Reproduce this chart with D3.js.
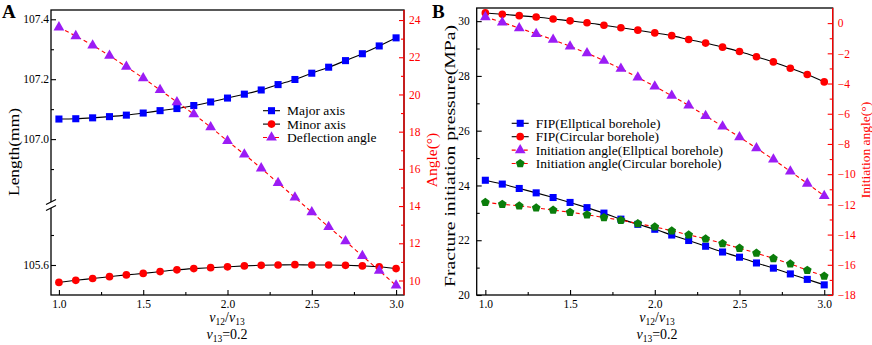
<!DOCTYPE html>
<html>
<head>
<meta charset="utf-8">
<script src="https://cdn.jsdelivr.net/npm/d3@7"></script>
<style>
  body { margin: 0; background: #fff; }
  svg text { font-family: "Liberation Serif", "Times New Roman", serif; }
</style>
</head>
<body>
<svg id="chart" width="872" height="345"></svg>
<script>
// v12/v13 ratio, shared by both panels
const ratio = [1.0, 1.1, 1.2, 1.3, 1.4, 1.5, 1.6, 1.7, 1.8, 1.9, 2.0, 2.1, 2.2, 2.3, 2.4, 2.5, 2.6, 2.7, 2.8, 2.9, 3.0];

// panel A
const majorAxis = [107.067, 107.068, 107.071, 107.075, 107.080, 107.087, 107.095, 107.102, 107.112, 107.124, 107.137,
  107.150, 107.164, 107.182, 107.199, 107.220, 107.240, 107.262, 107.285, 107.311, 107.338];
const minorAxis = [105.542, 105.549, 105.555, 105.561, 105.567, 105.572, 105.578, 105.584, 105.588, 105.591, 105.594,
  105.597, 105.599, 105.600, 105.601, 105.600, 105.600, 105.599, 105.597, 105.594, 105.588];
const deflectionAngle = [23.61, 23.14, 22.64, 22.08, 21.49, 20.88, 20.24, 19.59, 18.94, 18.24, 17.50,
  16.78, 16.03, 15.24, 14.46, 13.67, 12.88, 12.11, 11.32, 10.53, 9.73];

// panel B
const fipElliptical = [24.19, 24.05, 23.89, 23.73, 23.56, 23.38, 23.19, 22.99, 22.77, 22.58, 22.40,
  22.19, 21.99, 21.78, 21.57, 21.38, 21.17, 20.98, 20.77, 20.57, 20.37];
const fipCircular = [30.30, 30.25, 30.20, 30.15, 30.08, 30.01, 29.94, 29.85, 29.76, 29.67, 29.57,
  29.47, 29.33, 29.20, 29.05, 28.89, 28.70, 28.51, 28.28, 28.05, 27.78];
const angleElliptical = [0.40, 0.05, -0.33, -0.71, -1.10, -1.54, -1.99, -2.49, -3.02, -3.60, -4.19,
  -4.81, -5.45, -6.14, -6.84, -7.55, -8.28, -9.03, -9.82, -10.62, -11.44];
const angleCircular = [-11.87, -11.99, -12.10, -12.23, -12.38, -12.52, -12.69, -12.87, -13.05, -13.27, -13.49,
  -13.75, -14.02, -14.28, -14.59, -14.90, -15.23, -15.58, -15.94, -16.36, -16.75];

// tick labels
const xTicks = [1.0, 1.5, 2.0, 2.5, 3.0];
const xMinor = [1.25, 1.75, 2.25, 2.75];
const lengthTicksUp = [107.0, 107.2, 107.4];
const lengthMinorUp = [106.9, 107.1, 107.3];
const lengthTicksLow = [105.6];
const lengthMinorLow = [105.7];
const deflTicks = [10, 12, 14, 16, 18, 20, 22, 24];
const deflMinor = [11, 13, 15, 17, 19, 21, 23];
const fipTicks = [20, 22, 24, 26, 28, 30];
const fipMinor = [21, 23, 25, 27, 29];
const initTicks = [-18, -16, -14, -12, -10, -8, -6, -4, -2, 0];
const initMinor = [-17, -15, -13, -11, -9, -7, -5, -3, -1];

const RED = "#ff0000";
const BLUE = "#0000ff";
const VIOLET = "#9b1cf5";
const GREEN = "#0b7d0b";

const svg = d3.select("#chart");

// pentagon marker, d3 has none
const symbolPentagon = {
  draw(ctx, size) {
    const r = Math.sqrt(size / 2.378);
    for (let i = 0; i < 5; i++) {
      const a = -Math.PI / 2 + (i * 2 * Math.PI) / 5;
      if (i === 0) ctx.moveTo(r * Math.cos(a), r * Math.sin(a));
      else ctx.lineTo(r * Math.cos(a), r * Math.sin(a));
    }
    ctx.closePath();
  },
};
const markers = {
  square: d3.symbol().type(d3.symbolSquare).size(50),
  circle: d3.symbol().type(d3.symbolCircle).size(46),
  triangle: d3.symbol().type(d3.symbolTriangle).size(50),
  pentagon: d3.symbol().type(symbolPentagon).size(50),
};

function drawSeries(g, x, y, values, s) {
  const pts = ratio.map((r, i) => [r, values[i]]);
  g.append("path")
    .datum(pts)
    .attr("fill", "none")
    .attr("stroke", s.dashed ? RED : "#000")
    .attr("stroke-width", 1.1)
    .attr("stroke-dasharray", s.dashed ? "4,3" : null)
    .attr("d", d3.line().curve(d3.curveMonotoneX).x((d) => x(d[0])).y((d) => y(d[1])));
  g.selectAll(null)
    .data(pts)
    .enter()
    .append("path")
    .attr("d", markers[s.marker])
    .attr("fill", s.color)
    .attr("transform", (d) => `translate(${x(d[0])},${y(d[1])})`);
}

function tickAxis(g, axisFn, scale, major, minor, fmt, pad, color) {
  const a = g.append("g").call(axisFn(scale).tickValues(major).tickFormat(fmt).tickSize(-5).tickPadding(pad).tickSizeOuter(0));
  const m = g.append("g").call(axisFn(scale).tickValues(minor).tickFormat("").tickSize(-3).tickSizeOuter(0));
  [a, m].forEach((s) => {
    s.select(".domain").remove();
    s.selectAll("line").attr("stroke", color).attr("stroke-width", 1.1);
    s.selectAll("text").attr("fill", color).attr("font-size", 11.5).attr("font-family", "Liberation Serif, serif");
  });
  return a;
}

function xTitle(g, cx) {
  const t1 = g.append("text").attr("x", cx).attr("y", 322).attr("text-anchor", "middle").attr("font-size", 14);
  t1.append("tspan").attr("font-style", "italic").text("v");
  t1.append("tspan").attr("font-size", 9.5).attr("dy", 3).text("12");
  t1.append("tspan").attr("dy", -3).text("/");
  t1.append("tspan").attr("font-style", "italic").text("v");
  t1.append("tspan").attr("font-size", 9.5).attr("dy", 3).text("13");
  const t2 = g.append("text").attr("x", cx).attr("y", 339).attr("text-anchor", "middle").attr("font-size", 14);
  t2.append("tspan").attr("font-style", "italic").text("v");
  t2.append("tspan").attr("font-size", 9.5).attr("dy", 3).text("13");
  t2.append("tspan").attr("dy", -3).text("=0.2");
}

function yTitle(g, cx, cy, text, color, size, len) {
  const t = g.append("text")
    .attr("transform", `translate(${cx},${cy}) rotate(-90)`)
    .attr("text-anchor", "middle")
    .attr("dominant-baseline", "central")
    .attr("font-size", size)
    .attr("fill", color)
    .text(text);
  if (len) t.attr("textLength", len).attr("lengthAdjust", "spacingAndGlyphs");
}

function legend(g, x0, y0, rows) {
  rows.forEach((r, i) => {
    const y = y0 + i * 13.4;
    g.append("line")
      .attr("x1", x0).attr("x2", x0 + 17).attr("y1", y).attr("y2", y)
      .attr("stroke", r.dashed ? RED : "#000")
      .attr("stroke-width", 1.1)
      .attr("stroke-dasharray", r.dashed ? "4,2" : null);
    g.append("path").attr("d", markers[r.marker]).attr("fill", r.color).attr("transform", `translate(${x0 + 8.5},${y})`);
    g.append("text").attr("x", x0 + 24).attr("y", y).attr("dominant-baseline", "central").attr("font-size", 13.5).text(r.label);
  });
}

function panelLetter(x, text) {
  svg.append("text")
    .attr("x", x).attr("y", 18)
    .attr("font-family", "Liberation Sans, Arial, sans-serif")
    .attr("font-weight", "bold")
    .attr("font-size", 19)
    .text(text);
}

// ---------- panel A ----------
const A = { l: 51, r: 404, t: 10, b: 295, brk: 205 };
const xA = d3.scaleLinear().domain([0.953, 3.047]).range([A.l, A.r]);
const yAUp = d3.scaleLinear().domain([106.78, 107.431]).range([A.brk, A.t]);
const yALow = d3.scaleLinear().domain([105.5, 105.8]).range([A.b, A.brk]);
const yAR = d3.scaleLinear().domain([9.22, 24.54]).range([A.b, A.t]);
const gA = svg.append("g");

gA.append("rect").attr("x", A.l).attr("y", A.t).attr("width", A.r - A.l).attr("height", A.b - A.t)
  .attr("fill", "none").attr("stroke", "#000").attr("stroke-width", 1.3);

const fmt1 = d3.format(".1f");
tickAxis(gA.append("g").attr("transform", `translate(0,${A.b})`), d3.axisBottom, xA, xTicks, xMinor, fmt1, 5, "#000");
tickAxis(gA.append("g").attr("transform", `translate(${A.l},0)`), d3.axisLeft, yAUp, lengthTicksUp, lengthMinorUp, fmt1, 2, "#000");
tickAxis(gA.append("g").attr("transform", `translate(${A.l},0)`), d3.axisLeft, yALow, lengthTicksLow, lengthMinorLow, fmt1, 2, "#000");
tickAxis(gA.append("g").attr("transform", `translate(${A.r},0)`), d3.axisRight, yAR, deflTicks, deflMinor, d3.format("d"), 5, RED);
gA.append("line").attr("x1", A.r).attr("x2", A.r).attr("y1", A.t).attr("y2", A.b).attr("stroke", RED).attr("stroke-width", 1.3);

// axis break on the length axis
gA.append("rect").attr("x", A.l - 2).attr("y", A.brk - 3).attr("width", 4).attr("height", 6).attr("fill", "#fff");
[-3, 3].forEach((d) => {
  gA.append("line")
    .attr("x1", A.l - 5).attr("y1", A.brk + d + 2.5).attr("x2", A.l + 5).attr("y2", A.brk + d - 2.5)
    .attr("stroke", "#000").attr("stroke-width", 1.1);
});

drawSeries(gA, xA, yAUp, majorAxis, { marker: "square", color: BLUE });
drawSeries(gA, xA, yALow, minorAxis, { marker: "circle", color: RED });
drawSeries(gA, xA, yAR, deflectionAngle, { marker: "triangle", color: VIOLET, dashed: true });

legend(gA, 263, 110.7, [
  { label: "Major axis", marker: "square", color: BLUE },
  { label: "Minor axis", marker: "circle", color: RED },
  { label: "Deflection angle", marker: "triangle", color: VIOLET, dashed: true },
]);

yTitle(gA, 14, 152, "Length(mm)", "#000", 14.5, 88);
yTitle(gA, 431, 160, "Angle(°)", RED, 15.5);
xTitle(gA, 227);
panelLetter(2, "A");

// ---------- panel B ----------
const B = { l: 476.7, r: 832.7, t: 8, b: 295 };
const xB = d3.scaleLinear().domain([0.949, 3.05]).range([B.l, B.r]);
const yBL = d3.scaleLinear().domain([20, 30.48]).range([B.b, B.t]);
const yBR = d3.scaleLinear().domain([-18, 1]).range([B.b, B.t]);
const gB = svg.append("g");

gB.append("rect").attr("x", B.l).attr("y", B.t).attr("width", B.r - B.l).attr("height", B.b - B.t)
  .attr("fill", "none").attr("stroke", "#000").attr("stroke-width", 1.3);

tickAxis(gB.append("g").attr("transform", `translate(0,${B.b})`), d3.axisBottom, xB, xTicks, xMinor, fmt1, 5, "#000");
tickAxis(gB.append("g").attr("transform", `translate(${B.l},0)`), d3.axisLeft, yBL, fipTicks, fipMinor, d3.format("d"), 7, "#000");
tickAxis(gB.append("g").attr("transform", `translate(${B.r},0)`), d3.axisRight, yBR, initTicks, initMinor, d3.format("d"), 5, RED);
gB.append("line").attr("x1", B.r).attr("x2", B.r).attr("y1", B.t).attr("y2", B.b).attr("stroke", RED).attr("stroke-width", 1.3);

drawSeries(gB, xB, yBL, fipElliptical, { marker: "square", color: BLUE });
drawSeries(gB, xB, yBL, fipCircular, { marker: "circle", color: RED });
drawSeries(gB, xB, yBR, angleElliptical, { marker: "triangle", color: VIOLET, dashed: true });
drawSeries(gB, xB, yBR, angleCircular, { marker: "pentagon", color: GREEN, dashed: true });

legend(gB, 511.7, 123.3, [
  { label: "FIP(Ellptical borehole)", marker: "square", color: BLUE },
  { label: "FIP(Circular borehole)", marker: "circle", color: RED },
  { label: "Initiation angle(Ellptical borehole)", marker: "triangle", color: VIOLET, dashed: true },
  { label: "Initiation angle(Circular borehole)", marker: "pentagon", color: GREEN, dashed: true },
]);

yTitle(gB, 450, 156, "Fracture initiation pressure(MPa)", "#000", 14.5, 262);
yTitle(gB, 865, 150, "Initiation angle(°)", RED, 13.5);
xTitle(gB, 657);
panelLetter(432, "B");
</script>
</body>
</html>
